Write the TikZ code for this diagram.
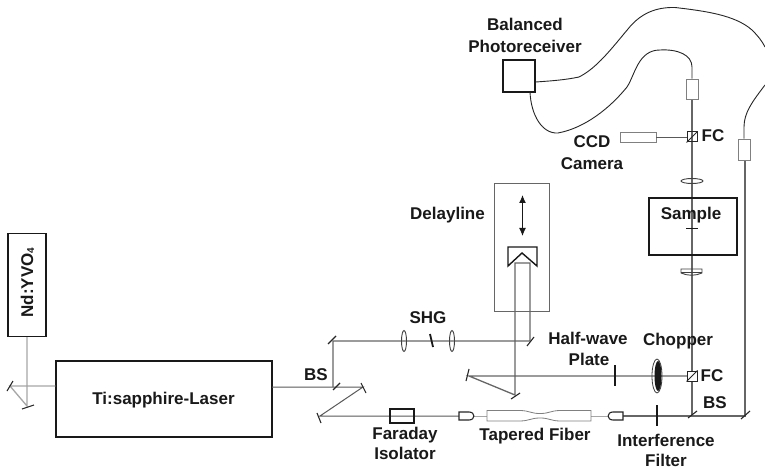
\documentclass[tikz,border=0pt]{standalone}
\usepackage{fontspec}
\usetikzlibrary{arrows.meta}
\setmainfont{Liberation Sans}
\begin{document}
\begin{tikzpicture}[x=1pt,y=-1pt,
  lbl/.style={font=\fontsize{17}{20}\selectfont\bfseries,inner sep=0pt,text=black!90,text height=12pt,text depth=0pt},
  box/.style={draw=black!90,line width=1.4pt,inner sep=0pt},
  beam/.style={draw=black!60,line width=1.3pt},
  gbeam/.style={draw=black!35,line width=1.3pt},
  thinbeam/.style={draw=black!65,line width=1pt},
  mirror/.style={draw=black!85,line width=1.1pt},
  thick tick/.style={draw=black!90,line width=2pt},
  lens/.style={draw=black!75,line width=0.9pt},
  fiber/.style={draw=black!85,line width=0.9pt},
  grayrect/.style={draw=black!50,line width=0.9pt,fill=white,inner sep=0pt}]
\useasboundingbox (0,0) rectangle (765,470);
\fill[white] (0,0) rectangle (765,470);
% --- pump laser section
\node[box,minimum width=38pt,minimum height=103pt] (nd) at (27,285) {};
\node[box,minimum width=216pt,minimum height=76pt] (ti) at (164,399) {};
\coordinate (m1) at (27,406);
\coordinate (m2) at (10,386);
\path[gbeam] (nd.south) -- (m1) -- (m2) -- (ti.west |- m2);
\draw[mirror] (22,409) -- (34,405);
\draw[mirror] (7,391) -- (13,381);
% --- main beam
\coordinate (bs1) at (333,387);
\coordinate (m3) at (363,387);
\coordinate (m4) at (320,416);
\coordinate (m5) at (333,341);
\coordinate (m6) at (530,341);
\coordinate (r1) at (530,263);
\coordinate (r2) at (515,263);
\coordinate (m7) at (515,395);
\coordinate (m8) at (469,376);
\coordinate (fc2) at (692,376);
\coordinate (bs2) at (692,416);
\coordinate (bs3) at (745,416);
\path[thinbeam] (272,387) -- (m3) -- (m4) -- (459,416);
\path[beam] (bs1) -- (m5) -- (m6) -- (r1) -- (r2) -- (m7) -- (m8) -- (fc2);
\path[beam] (623,416) -- (bs3) -- (745,160);
\path[beam] (bs2) -- (692,99);
\foreach \a/\b in {{333,390}/{340,383},{361,383}/{366,393},{317,413}/{321,423},{328,344}/{336,336},{527,346}/{534,337},{511,399}/{520,393},{466,381}/{469,369},{688,418}/{697,411},{741,419}/{750,411}}
  \draw[mirror] (\a) -- (\b);
% --- SHG
\draw[lens] (404,341) ellipse [x radius=2.5,y radius=10.5];
\draw[lens] (452,341) ellipse [x radius=2.5,y radius=10.5];
\draw[thick tick,line width=1.8pt] (430,334) -- (433,347);
% --- delay line
\node[draw=black!60,line width=0.7pt,minimum width=55pt,minimum height=128pt,inner sep=0pt] (delay) at (521.5,247) {};
\draw[black!90,line width=1pt,{Latex[length=8pt,width=7pt]}-{Latex[length=8pt,width=7pt]}] (522.5,195) -- (522.5,236);
\draw[black!90,line width=1.4pt] (508,247) -- (537,247) -- (537,266) -- (522,253) -- (508,266) -- cycle;
% --- half-wave plate, chopper, FC
\draw[thick tick] (615,365) -- (615,386);
\draw[black!75,line width=0.8pt] (657,376) ellipse [x radius=5,y radius=17];
\fill[black!90] (658,376) ellipse [x radius=3.5,y radius=15];
\node[draw=black!85,line width=1pt,fill=white,minimum size=10pt,inner sep=0pt] (cube2) at (fc2) {};
\draw[black!85,line width=0.9pt] (cube2.south west) -- (cube2.north east);
% --- fiber section
\node[grayrect,minimum width=36pt,minimum height=10pt] (ccd) at (638,137) {};
\node[draw=black!85,line width=1pt,minimum size=10pt,inner sep=0pt] (cube1) at (692,137) {};
\path[thinbeam,line width=0.7pt] (ccd.east) -- (cube1.west);
\draw[black!85,line width=0.9pt] (cube1.south west) -- (cube1.north east);
\draw[lens] (692,181) ellipse [x radius=11,y radius=2.5];
\node[box,minimum width=88pt,minimum height=57pt] (sample) at (693,226.5) {};
\draw[black!90,line width=1pt] (686,229) -- (698,229);
\draw[black!75,line width=0.9pt] (681,269) -- (702,269) -- (702,273) .. controls (695,276) and (688,276) .. (681,273) -- cycle;
\draw[black!75,line width=0.7pt] (681,272.5) -- (702,272.5);
\node[grayrect,minimum width=12pt,minimum height=20pt] (col1) at (692,89) {};
\node[grayrect,minimum width=12pt,minimum height=21pt] (col2) at (744,149.5) {};
\node[box,minimum width=32pt,minimum height=32pt] (pr) at (519,76) {};
\draw[fiber] (pr.east) ++(0,6) .. controls (550,81) and (565,80) .. (579,77)
  .. controls (597,68) and (612,48) .. (628,29) .. controls (640,14) and (655,7) .. (675,7.5)
  .. controls (705,11) and (735,15) .. (752,30) .. controls (758,36) and (762,41) .. (765,47);
\draw[fiber] (530,92) .. controls (531,115) and (542,134) .. (558,133)
  .. controls (585,128) and (610,108) .. (627,87) .. controls (635,75) and (638,50) .. (660,50)
  .. controls (678,49) and (692,55) .. (692,67) -- (col1.north);
\draw[fiber] (col2.north) -- (744,127) .. controls (744,113) and (752,102) .. (765,85);
% --- tapered fibre and couplers
\path[gbeam,line width=0.9pt] (474,416) -- (487,416);
\path[gbeam,line width=0.9pt] (591,416) -- (608,416);
\draw[fill=white,draw=black!85,line width=1.1pt] (459,412) -- (469,412) .. controls (475.5,412) and (475.5,420) .. (469,420) -- (459,420) -- cycle;
\draw[fill=white,draw=black!85,line width=1.1pt] (623,412) -- (613,412) .. controls (606.5,412) and (606.5,420) .. (613,420) -- (623,420) -- cycle;
\draw[black!50,line width=0.8pt] (487,410.5) -- (519,410.5) .. controls (530,410.5) and (530,413.5) .. (540,413.5) .. controls (550,413.5) and (550,410.5) .. (561,410.5) -- (591,410.5) -- (591,421) -- (561,421) .. controls (550,421) and (550,418) .. (540,418) .. controls (530,418) and (530,421) .. (519,421) -- (487,421) -- cycle;
\node[draw=black!90,line width=1.1pt,minimum width=24pt,minimum height=14pt,inner sep=0pt] (far) at (402,416) {};
\draw[thick tick] (657,405) -- (657,426);
% --- labels
\node[lbl] (t1) at (525,25) {Balanced};
\node[lbl] (t2) at (525,47) {Photoreceiver};
\node[lbl] (t3) at (592,142) {CCD};
\node[lbl] (t4) at (592,164) {Camera};
\node[lbl] (t5) at (713,136) {FC};
\node[lbl] (t6) at (691,214) {Sample};
\node[lbl] (t7) at (447.5,214) {Delayline};
\node[lbl] (t8) at (428,317) {SHG};
\node[lbl] (t9) at (588,338) {Half-wave};
\node[lbl] (t10) at (589,359) {Plate};
\node[lbl] (t11) at (678,339) {Chopper};
\node[lbl] (t12) at (712,375) {FC};
\node[lbl] (t13) at (715,402) {BS};
\node[lbl] (t14) at (316,374) {BS};
\node[lbl] (t15) at (666,440) {Interference};
\node[lbl] (t16) at (666,460) {Filter};
\node[lbl] (t17) at (535,434) {Tapered Fiber};
\node[lbl] (t18) at (405,433) {Faraday};
\node[lbl] (t19) at (405,453) {Isolator};
\node[lbl] (t20) at (163.5,398) {Ti:sapphire-Laser};
\node[lbl,rotate=90] (t21) at (27,282.5) {Nd:YVO\raisebox{-1pt}{\fontsize{10}{10}\selectfont 4}};
\end{tikzpicture}
\end{document}
